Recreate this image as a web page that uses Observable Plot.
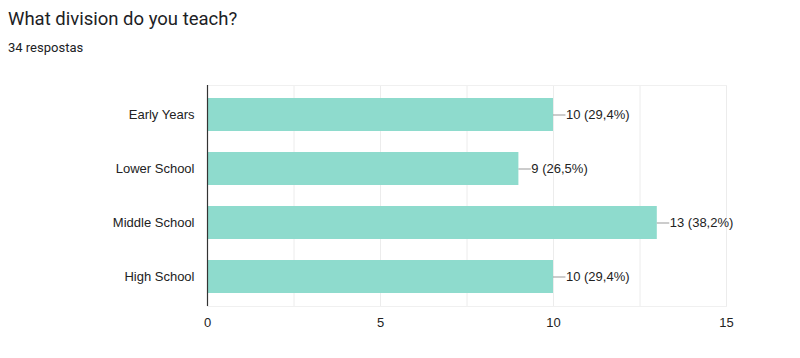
<!DOCTYPE html>
<html>
<head>
<meta charset="utf-8">
<script src="https://cdn.jsdelivr.net/npm/d3@7"></script>
<script src="https://cdn.jsdelivr.net/npm/@observablehq/plot@0.6"></script>
<style>
  body { margin: 0; background: #fff; width: 800px; height: 358px; overflow: hidden; }
  #head { height: 70px; position: relative; }
  #title { position: absolute; left: 8px; top: 8px; font-family: Roboto, "Liberation Sans", sans-serif; font-size: 18.5px; color: #202124; }
  #sub { position: absolute; left: 8px; top: 40px; font-family: Roboto, "Liberation Sans", sans-serif; font-size: 13px; color: #202124; }
  svg { display: block; }
</style>
</head>
<body>
<div id="head"><div id="title">What division do you teach?</div><div id="sub">34 respostas</div></div>
<div id="chart"></div>
<script>
const categories = ["Early Years", "Lower School", "Middle School", "High School"];
const counts = [10, 9, 13, 10];
const labels = ["10 (29,4%)", "9 (26,5%)", "13 (38,2%)", "10 (29,4%)"];
const xTicks = [0, 5, 10, 15];
const gridTicks = [0, 2.5, 5, 7.5, 10, 12.5, 15];

const data = categories.map((c, i) => ({cat: c, value: counts[i], label: labels[i]}));

const chart = Plot.plot({
  width: 800,
  height: 288,
  marginLeft: 207,
  marginRight: 74,
  marginTop: 15,
  marginBottom: 52,
  style: {fontFamily: "'Liberation Sans', Arial, sans-serif", fontSize: "13px", color: "#222"},
  x: {domain: [0, 15], ticks: xTicks, tickSize: 0, tickPadding: 11, label: null},
  y: {domain: categories, paddingInner: 0.38, paddingOuter: 0.2, tickSize: 0, tickPadding: 13, label: null},
  marks: [
    Plot.ruleX(gridTicks, {stroke: "#ececec", strokeWidth: 1}),
    Plot.frame({anchor: "top", stroke: "#f0f0f0"}),
    Plot.frame({anchor: "bottom", stroke: "#f0f0f0"}),
    Plot.barX(data, {y: "cat", x: "value", fill: "#8edbcd"}),
    Plot.ruleY(data, {y: "cat", x1: "value", x2: d => d.value + 0.36, stroke: "#999", strokeWidth: 1}),
    Plot.text(data, {y: "cat", x: d => d.value + 0.36, text: "label", textAnchor: "start", dx: 0, fill: "#222", fontSize: 13}),
    Plot.ruleX([0], {stroke: "#333", strokeWidth: 1.2})
  ]
});
document.getElementById("chart").appendChild(chart);
</script>
</body>
</html>
